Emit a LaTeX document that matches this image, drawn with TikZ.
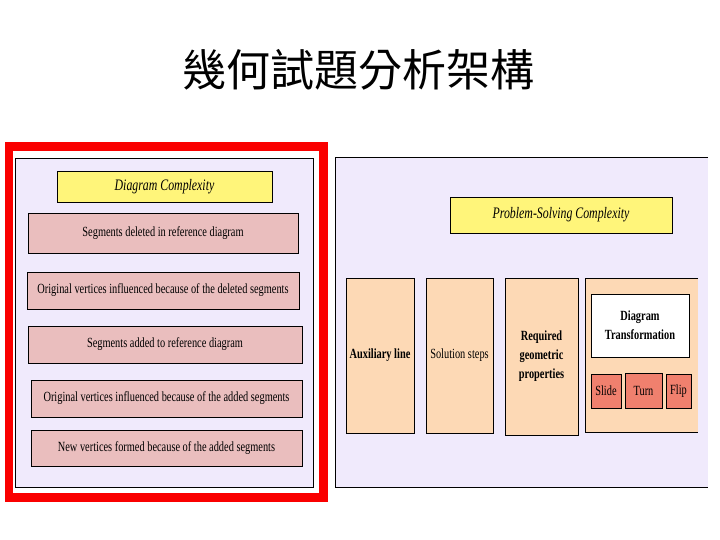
\documentclass[tikz,border=0pt]{standalone}
\usepackage{fontspec}
\setmainfont{Liberation Serif}[FakeStretch=0.74]
\newfontfamily\cjk{Noto Sans CJK TC}
\definecolor{lav}{RGB}{240,234,252}
\definecolor{pinkbox}{RGB}{234,190,190}
\definecolor{yel}{RGB}{255,245,122}
\definecolor{peach}{RGB}{253,217,181}
\definecolor{salmon}{RGB}{240,128,110}
\definecolor{redf}{RGB}{250,0,0}
\tikzset{
  txt/.style={font=\fontsize{14}{17}\selectfont, text=black},
  box/.style={draw=black, line width=0.9pt, inner sep=0pt, align=center, txt},
  ybox/.style={box, fill=yel, font=\fontsize{16}{18}\selectfont\itshape},
  pbox/.style={box, fill=pinkbox},
  colbox/.style={box, fill=peach},
  sbox/.style={box, fill=salmon},
  wbox/.style={box, fill=white, font=\fontsize{14}{19}\selectfont\bfseries},
}
\begin{document}
\begin{tikzpicture}[x=1pt,y=-1pt]
\useasboundingbox[fill=white] (0,0) rectangle (720,540);
% title
\node[font=\cjk\fontsize{44}{48}\selectfont] (title) at (358,70) {幾何試題分析架構};
% left panel
\draw[redf, line width=8.5pt] (9,146.5) rectangle (323.5,497.5);
\draw[fill=lav, draw=black, line width=0.8pt] (15,158) rectangle (313,487);
\node[ybox, minimum width=215pt, minimum height=31pt] (dc) at (164.5,186.5) {Diagram Complexity};
\node[pbox, minimum width=270pt, minimum height=40pt] (s1) at (163,233) {Segments deleted in reference diagram};
\node[pbox, minimum width=272pt, minimum height=37pt] (s2) at (163,290.5) {Original vertices influenced because of the deleted segments};
\node[pbox, minimum width=274pt, minimum height=37pt] (s3) at (165,344.5) {Segments added to reference diagram};
\node[pbox, minimum width=271pt, minimum height=37pt] (s4) at (166.5,398.5) {Original vertices influenced because of the added segments};
\node[pbox, minimum width=271pt, minimum height=36pt] (s5) at (166.5,448) {New vertices formed because of the added segments};
% right panel
\fill[lav] (335,157) rectangle (708,487);
\draw[black, line width=0.8pt] (708,157) -- (335,157) -- (335,487) -- (708,487);
\node[ybox, minimum width=222pt, minimum height=36pt] (ps) at (561,215) {Problem-Solving Complexity};
\node[colbox, minimum width=68pt, minimum height=155pt, font=\fontsize{14}{17}\selectfont\bfseries] (c1) at (380,355.5) {Auxiliary line};
\node[colbox, minimum width=67pt, minimum height=155pt] (c2) at (459.5,355.5) {Solution steps};
\node[colbox, minimum width=73pt, minimum height=157pt, font=\fontsize{14}{19}\selectfont\bfseries] (c3) at (541.5,356.5) {Required\\geometric\\properties};
\fill[peach] (585,278) rectangle (698,432);
\draw[black, line width=0.9pt] (698,278) -- (585,278) -- (585,432) -- (698,432);
\node[wbox, minimum width=98pt, minimum height=63pt] (dt) at (640,325.5) {Diagram\\Transformation};
\node[sbox, minimum width=30pt, minimum height=34pt] (slide) at (606,391) {Slide};
\node[sbox, minimum width=37pt, minimum height=35pt] (turn) at (643.5,390.5) {Turn};
\node[sbox, minimum width=25pt, minimum height=34pt] (flip) at (678.5,391) {Flip};
\end{tikzpicture}
\end{document}
